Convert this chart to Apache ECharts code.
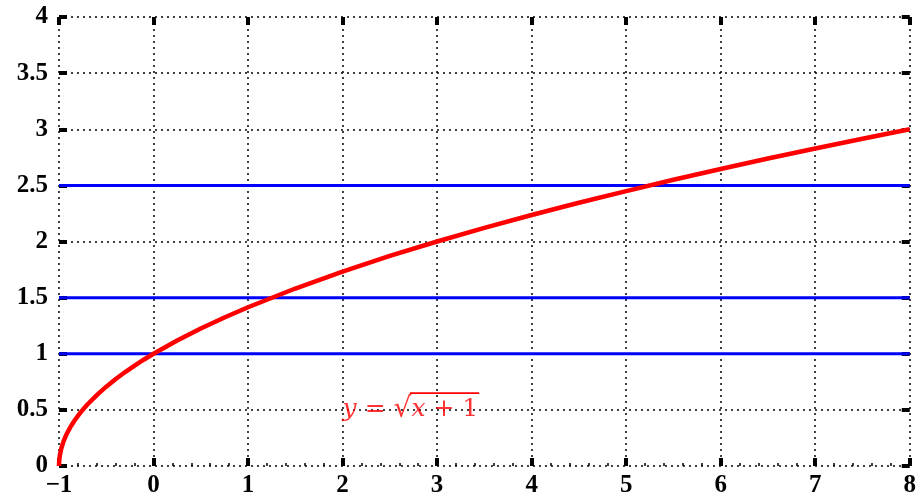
<!DOCTYPE html>
<html>
<head>
<meta charset="utf-8">
<script src="https://cdn.jsdelivr.net/npm/echarts@6/dist/echarts.min.js"></script>
<style>
  html, body { margin: 0; padding: 0; background: #fff; }
  #chart { width: 919px; height: 504px; }
</style>
</head>
<body>
<div id="chart"></div>
<script>
// Curve y = sqrt(x + 1), sampled points
const curveX = [-1, -0.998, -0.99, -0.975, -0.95, -0.92, -0.88, -0.83, -0.77, -0.7, -0.6, -0.5, -0.4, -0.3, -0.2, -0.1, 0, 0.25, 0.5, 0.75, 1, 1.5, 2, 2.5, 3, 3.5, 4, 4.5, 5, 5.5, 6, 6.5, 7, 7.5, 8];
const curveY = [0, 0.045, 0.1, 0.158, 0.224, 0.283, 0.346, 0.412, 0.48, 0.548, 0.632, 0.707, 0.775, 0.837, 0.894, 0.949, 1, 1.118, 1.225, 1.323, 1.414, 1.581, 1.732, 1.871, 2, 2.121, 2.236, 2.345, 2.449, 2.55, 2.646, 2.739, 2.828, 2.915, 3];
// Horizontal reference levels
const levels = [1, 1.5, 2.5];
const xRange = [-1, 8];
const yRange = [0, 4];
const curveLabel = { x: 2, y: 0.5 };

const tickFont = { fontFamily: 'Liberation Serif', fontWeight: 'bold', fontSize: 25, color: '#000' };
const fmtNum = v => (v < 0 ? '\u2212' + Math.abs(v) : String(v));

const dotted = { show: true, lineStyle: { color: '#000', type: [2, 4], width: 1.5 } };
const majorTick = { show: true, inside: true, length: 8, lineStyle: { color: '#000', width: 4 } };

const chart = echarts.init(document.getElementById('chart'), null, { renderer: 'canvas' });

const xAxisBase = {
  type: 'value', min: xRange[0], max: xRange[1], interval: 1,
  axisLine: { show: false, onZero: false },
  axisTick: majorTick,
};
const yAxisBase = {
  type: 'value', min: yRange[0], max: yRange[1], interval: 0.5,
  axisLine: { show: false, onZero: false },
  axisTick: majorTick,
};

const labelFont = 'DejaVu Serif';
const labelSize = 25;
const rootSize = 28;

chart.setOption({
  animation: false,
  grid: { left: 59, right: 4, top: 17, bottom: 38 },
  xAxis: [
    Object.assign({}, xAxisBase, {
      position: 'bottom',
      splitLine: dotted,
      minorTick: { show: true, splitNumber: 5, length: 3, lineStyle: { color: '#000', width: 1.5 } },
      axisLabel: Object.assign({ margin: 7, formatter: fmtNum }, tickFont),
    }),
    Object.assign({}, xAxisBase, {
      position: 'top',
      splitLine: { show: false },
      axisLabel: { show: false },
    }),
  ],
  yAxis: [
    Object.assign({}, yAxisBase, {
      position: 'left',
      splitLine: dotted,
      axisLabel: Object.assign({ margin: 11, formatter: fmtNum }, tickFont),
    }),
    Object.assign({}, yAxisBase, {
      position: 'right',
      splitLine: { show: false },
      axisLabel: { show: false },
    }),
  ],
  series: [
    ...levels.map(v => ({
      type: 'line',
      data: [[xRange[0], v], [xRange[1], v]],
      showSymbol: false,
      lineStyle: { color: '#0000ff', width: 3 },
      silent: true,
    })),
    {
      type: 'line',
      data: curveX.map((x, i) => [x, curveY[i]]),
      showSymbol: false,
      lineStyle: { color: '#ff0000', width: 4.5, join: 'round' },
      silent: true,
      z: 5,
    },
    {
      type: 'scatter',
      data: [[curveLabel.x, curveLabel.y]],
      symbolSize: 0,
      silent: true,
      z: 6,
      label: {
        show: true,
        position: 'right',
        distance: 0,
        formatter: '{i|y}{n| = }{r|\u221A}{i|x}{n| + 1}',
        rich: {
          i: { fontFamily: labelFont, fontStyle: 'italic', fontSize: labelSize, color: '#ff0000' },
          n: { fontFamily: labelFont, fontSize: labelSize, color: '#ff0000' },
          r: { fontFamily: labelFont, fontSize: rootSize, color: '#ff0000' },
        },
      },
    },
  ],
});

// Vinculum over "x + 1": measured from the label's own text
const ctx = document.createElement('canvas').getContext('2d');
const measure = (s, size, italic) => {
  ctx.font = (italic ? 'italic ' : '') + size + 'px "' + labelFont + '"';
  return ctx.measureText(s).width;
};
const origin = chart.convertToPixel({ xAxisIndex: 0, yAxisIndex: 0 }, [curveLabel.x, curveLabel.y]);
const startX = origin[0] + measure('y', labelSize, true) + measure(' = ', labelSize, false) + measure('\u221A', rootSize, false);
const endX = startX + measure('x', labelSize, true) + measure(' + 1', labelSize, false);
const barY = origin[1] - rootSize * 0.6;
chart.setOption({
  graphic: [{
    type: 'line',
    silent: true,
    z: 100,
    shape: { x1: startX - 1.5, y1: barY, x2: endX + 1, y2: barY },
    style: { stroke: '#ff0000', lineWidth: 1.8 },
  }],
});
</script>
</body>
</html>
